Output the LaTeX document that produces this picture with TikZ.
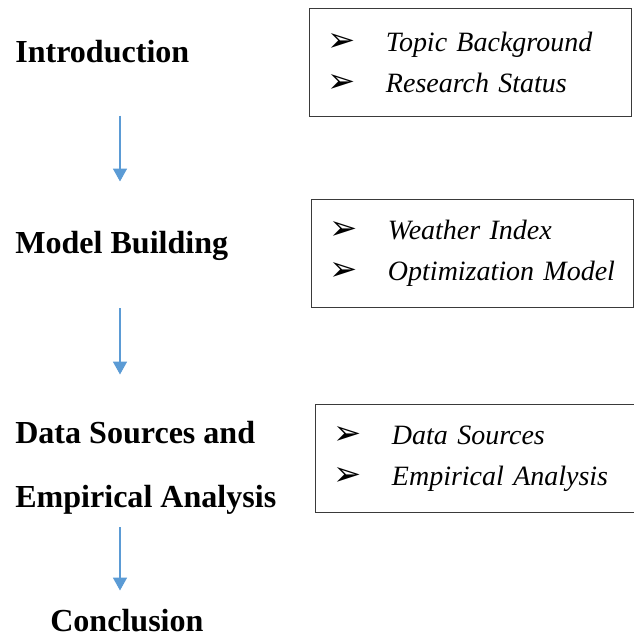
\documentclass[tikz,border=0pt]{standalone}
\usepackage{fontspec}
\setmainfont{Liberation Serif}[ItalicFeatures={WordSpace=0.7}]
\newfontfamily\dingfont{DejaVu Sans}
\usetikzlibrary{arrows.meta, positioning}
\definecolor{flowBlue}{HTML}{5B9BD5}
\definecolor{boxGray}{HTML}{3A3A3A}
\newcommand{\topicitem}[1]{\hspace*{0.15cm}{\dingfont\upshape\fontsize{24pt}{0pt}\selectfont\char"27A2}\hspace{0.75cm}\mbox{#1}}

\begin{document}
\begin{tikzpicture}[
    x=0.025cm, y=-0.025cm,
    stage/.style={anchor=base west, inner sep=0pt, align=left,
                  font=\fontsize{22.8pt}{45.5pt}\selectfont\bfseries},
    topics/.style={rectangle, draw=boxGray, line width=1pt, anchor=north west,
                   minimum width=8.05cm, minimum height=2.7cm, align=left,
                   text width=7.45cm, inner sep=0pt, inner xsep=0.3cm,
                   font=\fontsize{19.9pt}{29.2pt}\selectfont\itshape},
    flow/.style={draw=flowBlue, line width=0.8pt,
                 -{Triangle[width=0.35cm, length=0.32cm]}},
  ]
    \useasboundingbox (0,0) rectangle (633,637);

    % stages of the thesis
    \node[stage] (intro) at (15,63) {Introduction};
    \node[stage] (model) at (15,253) {Model Building};
    \node[stage] (data) at (15,507) {Data Sources and\\Empirical Analysis};
    \node[stage] (concl) at (50,631) {Conclusion};

    % contents of each stage
    \node[topics] (introTopics) at (309,8) {\topicitem{Topic Background}\\\topicitem{Research Status}};
    \node[topics] (modelTopics) at (311,199) {\topicitem{Weather Index}\\\topicitem{Optimization Model}};
    \node[topics] (dataTopics) at (315,404) {\topicitem{Data Sources}\\\topicitem{Empirical Analysis}};

    \coordinate (axis) at (120,0);
    \draw[flow, shorten <=1.3cm, shorten >=1.225cm] (intro.south -| axis) -- (model.north -| axis);
    \draw[flow, shorten <=1.2cm, shorten >=1.15cm] (model.south -| axis) -- (data.north -| axis);
    \draw[flow, shorten <=0.325cm, shorten >=0.45cm] (data.south -| axis) -- (concl.north -| axis);
  \end{tikzpicture}
\end{document}
